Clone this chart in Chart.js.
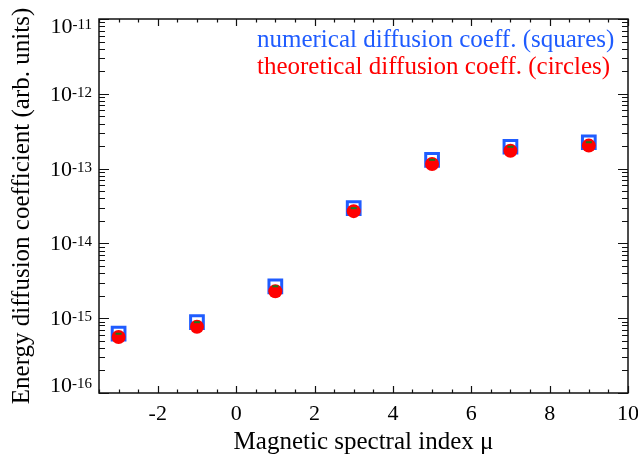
<!DOCTYPE html>
<html>
<head>
<meta charset="utf-8">
<script src="https://cdn.jsdelivr.net/npm/chart.js@4.4.1/dist/chart.umd.min.js"></script>
<style>
  html, body { margin: 0; padding: 0; background: #fff; }
</style>
</head>
<body>
<canvas id="diffusion" width="638" height="457"></canvas>
<script>
// magnetic spectral index vs energy diffusion coefficient
const spectralIndex = [-3, -1, 1, 3, 5, 7, 9];
const numericalCoeff = [6.2e-16, 8.85e-16, 2.67e-15, 2.96e-14, 1.31e-13, 1.96e-13, 2.25e-13];
const theoreticalCoeff = [5.6e-16, 7.7e-16, 2.29e-15, 2.7e-14, 1.15e-13, 1.73e-13, 2.03e-13];

const xTicks = [-2, 0, 2, 4, 6, 8, 10];
const yExponents = [-16, -15, -14, -13, -12, -11];
const legendLines = [
  { text: 'numerical diffusion coeff. (squares)', color: '#1f5cff' },
  { text: 'theoretical diffusion coeff. (circles)', color: '#ff0000' }
];

const SERIF = '"Liberation Serif", "Times New Roman", serif';

function points(ys) {
  return spectralIndex.map((x, i) => ({ x: x, y: ys[i] }));
}

// box around the plot with inward ticks on all four sides,
// tick labels (10^n on the log axis) and the two-line legend
const frame = {
  id: 'frame',
  afterDraw(chart) {
    const ctx = chart.ctx;
    const a = chart.chartArea;
    const xs = chart.scales.x;
    const ys = chart.scales.y;
    ctx.save();
    ctx.strokeStyle = '#111';
    ctx.lineWidth = 1.5;
    ctx.strokeRect(a.left, a.top, a.right - a.left, a.bottom - a.top);

    ctx.lineWidth = 1.2;
    ctx.beginPath();
    for (let v = -3.5; v <= 10.001; v += 0.5) {
      const px = Math.round(xs.getPixelForValue(v)) + 0.5;
      const len = (Math.abs(v % 2) < 1e-9) ? 7 : 3.5;
      ctx.moveTo(px, a.bottom); ctx.lineTo(px, a.bottom - len);
      ctx.moveTo(px, a.top); ctx.lineTo(px, a.top + len);
    }
    for (let e = -16; e < -11; e++) {
      for (let m = 1; m <= 9; m++) {
        const py = Math.round(ys.getPixelForValue(m * Math.pow(10, e))) + 0.5;
        const len = m === 1 ? 10 : 6;
        ctx.moveTo(a.left, py); ctx.lineTo(a.left + len, py);
        ctx.moveTo(a.right, py); ctx.lineTo(a.right - len, py);
      }
    }
    const topY = Math.round(ys.getPixelForValue(1e-11)) + 0.5;
    ctx.moveTo(a.left, topY); ctx.lineTo(a.left + 10, topY);
    ctx.moveTo(a.right, topY); ctx.lineTo(a.right - 10, topY);
    ctx.stroke();

    ctx.fillStyle = '#000';
    ctx.textBaseline = 'alphabetic';

    // x tick labels
    ctx.font = '22px ' + SERIF;
    ctx.textAlign = 'center';
    xTicks.forEach(v => {
      ctx.fillText(String(v), xs.getPixelForValue(v), a.bottom + 27);
    });

    // y tick labels, kept inside the plot height
    yExponents.forEach(e => {
      let cy = ys.getPixelForValue(Math.pow(10, e));
      cy = Math.min(Math.max(cy, a.top + 7), a.bottom - 8);
      const base = cy + 7;
      ctx.font = '15px ' + SERIF;
      const sup = String(e);
      const supW = ctx.measureText(sup).width;
      ctx.textAlign = 'right';
      ctx.fillText(sup, a.left - 7, base - 4);
      ctx.font = '22px ' + SERIF;
      ctx.fillText('10', a.left - 7 - supW, base);
    });

    ctx.font = '25px ' + SERIF;
    ctx.textAlign = 'left';
    legendLines.forEach((l, i) => {
      ctx.fillStyle = l.color;
      ctx.fillText(l.text, 257, 47 + i * 27);
    });
    ctx.restore();
  }
};

new Chart(document.getElementById('diffusion'), {
  type: 'scatter',
  data: {
    datasets: [{
      label: 'numerical',
      order: 3,
      data: points(numericalCoeff),
      pointStyle: 'rect',
      pointRadius: 9,
      borderWidth: 3,
      borderColor: '#1f5cff',
      backgroundColor: '#ffffff'
    }, {
      label: 'theoretical',
      order: 2,
      data: points(theoreticalCoeff),
      pointStyle: 'circle',
      pointRadius: 7,
      borderWidth: 0,
      borderColor: '#ff0000',
      backgroundColor: '#ff0000'
    }, {
      label: 'numerical centre',
      order: 1,
      data: points(numericalCoeff),
      pointStyle: 'line',
      pointRadius: 3,
      borderWidth: 2,
      borderColor: '#1c7a1c'
    }]
  },
  options: {
    responsive: false,
    animation: false,
    devicePixelRatio: 1,
    layout: { autoPadding: false, padding: { top: 19, right: 10, left: 0, bottom: 0 } },
    plugins: { legend: { display: false }, tooltip: { enabled: false } },
    scales: {
      x: {
        type: 'linear',
        min: -3.5,
        max: 10,
        afterBuildTicks: s => { s.ticks = xTicks.map(v => ({ value: v })); },
        afterFit: s => { s.height = 64; },
        grid: { display: false, drawTicks: false },
        border: { display: false },
        ticks: { display: false },
        title: { display: true, text: 'Magnetic spectral index μ', color: '#000', font: { family: SERIF, size: 25 }, padding: 0 }
      },
      y: {
        type: 'logarithmic',
        min: 1e-16,
        max: 1e-11,
        afterFit: s => { s.width = 99; },
        grid: { display: false, drawTicks: false },
        border: { display: false },
        ticks: { display: false },
        title: { display: true, text: 'Energy diffusion coefficient (arb. units)', color: '#000', font: { family: SERIF, size: 25 }, padding: { top: 7, bottom: 0 } }
      }
    }
  },
  plugins: [frame]
});
</script>
</body>
</html>
